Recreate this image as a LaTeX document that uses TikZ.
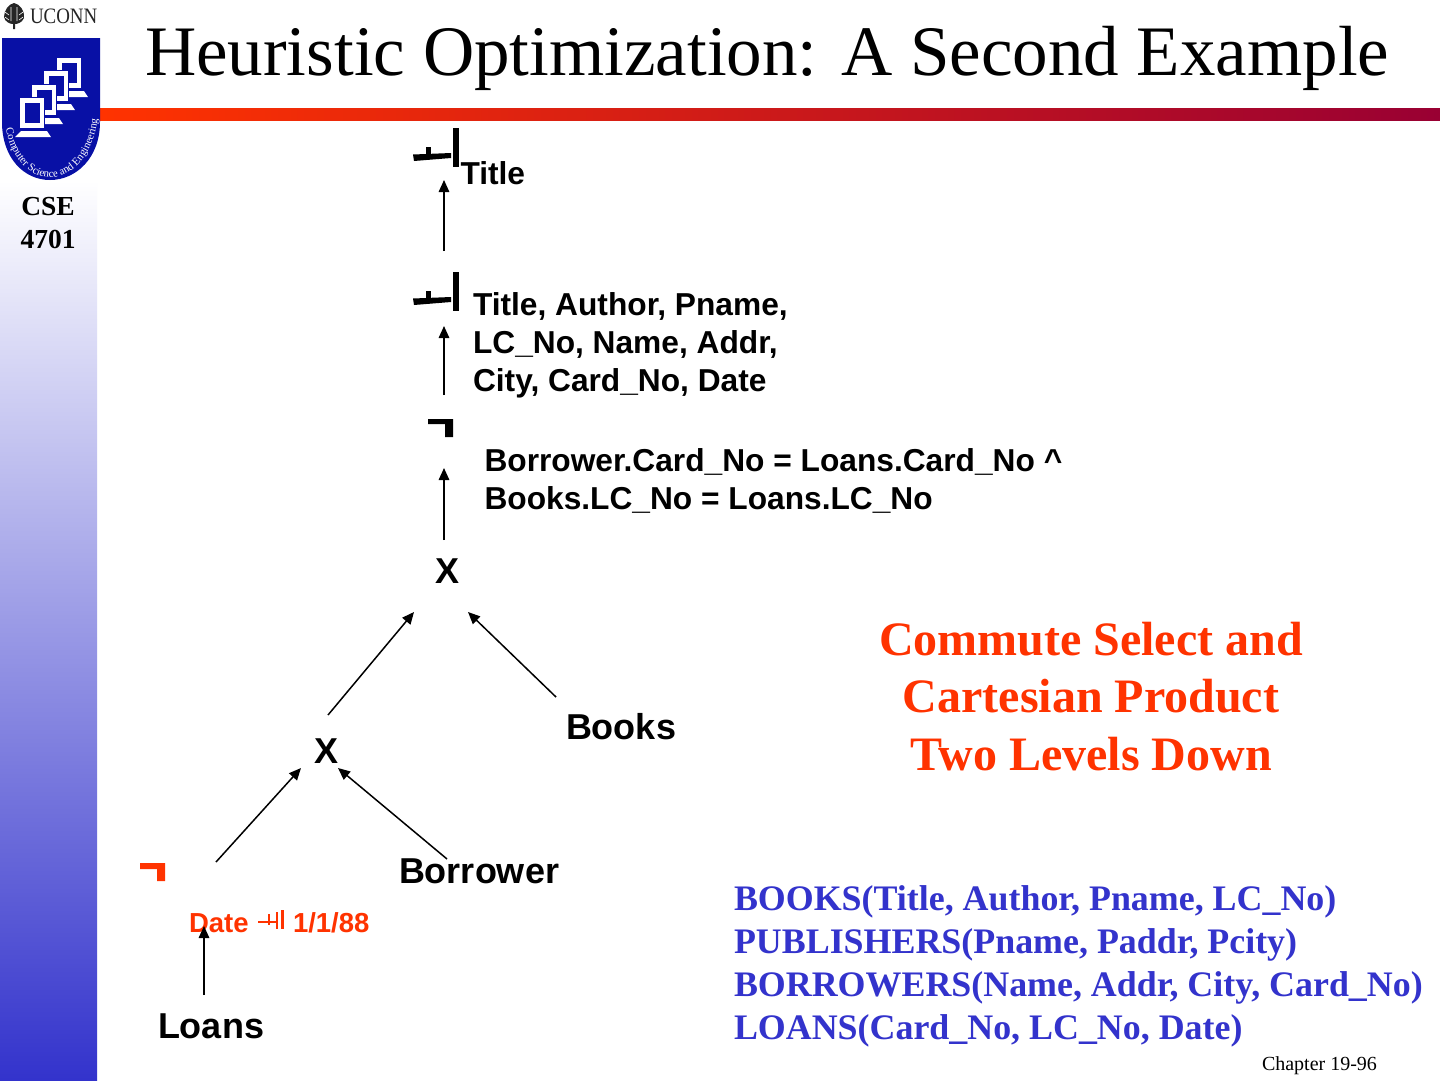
\documentclass[tikz,border=0pt]{standalone}
\usepackage{fontspec}
\setmainfont{Liberation Serif}
\setsansfont{Liberation Sans}
\usetikzlibrary{arrows.meta,decorations.text}
\definecolor{hotred}{RGB}{255,51,0}
\definecolor{wine}{RGB}{153,0,51}
\definecolor{slideblue}{RGB}{51,51,204}
\definecolor{shieldblue}{RGB}{8,16,165}
\newcommand{\fsz}[2]{\fontsize{#1}{#2}\selectfont}
\tikzset{
  x=1pt,y=-1pt,
  every node/.style={inner sep=0pt,outer sep=0pt},
  treelabel/.style={font=\sffamily\bfseries\fsz{36}{36},text=black},
  attrlabel/.style={font=\sffamily\bfseries\fsz{31.7}{38},text=black,anchor=base west,align=left},
  conn/.style={draw=black,line width=1.5pt,-{Triangle[length=12pt,width=10.5pt]}},
}
\begin{document}
\begin{tikzpicture}
\useasboundingbox (0,0) rectangle (1440,1080);
\fill[white] (0,0) rectangle (1440,1080);
% sidebar
\shade[top color=white,bottom color=slideblue] (0,180) rectangle (97,1080);
% red rule
\shade[left color=hotred,right color=wine] (100,108) rectangle (1440,120);
% shield
\fill[shieldblue] (2,38) -- (100,38) -- (100,122) .. controls (100,158) and (76,180) .. (50,180) .. controls (24,180) and (2,158) .. (2,122) -- cycle;
\foreach \dx/\dy in {37/-40,24/-27,12/-13,0/0}{
  \begin{scope}[shift={(\dx,\dy)}]
    \fill[shieldblue] (19,97) rectangle (45,128.5);
    \fill[white] (20,98) rectangle (44,127.5);
    \fill[shieldblue] (24.5,102.5) rectangle (39.5,122.5);
    \fill[white] (15,137) -- (51,137) -- (47,131) -- (21,131) -- cycle;
  \end{scope}
}
\path[decorate,decoration={text along path,text align=center,
  text={|\rmfamily\fsz{10.8}{10.8}\color{white}|Computer Science and Engineering}}]
  (5,122) .. controls (8,154) and (28,177.5) .. (50,177.5) .. controls (72,177.5) and (96,154) .. (98,112);
% UCONN mark
\fill[black!85] (14,3) .. controls (20,4) and (25,11) .. (24,18) .. controls (22,23) and (17,24) .. (15,24) -- (15,29) -- (13,29) -- (13,24) .. controls (10,24) and (5,22) .. (4,17) .. controls (4,10) and (9,4) .. (14,3) -- cycle;
\draw[white,line width=.6pt] (11,7) -- (11,21) (17,7) -- (17,21) (5,12) -- (9,15) (23,12) -- (19,15) (5,17) -- (9,20) (23,17) -- (19,20);
\node[anchor=base west,font=\rmfamily\fsz{22}{22},text=black!85] (uconn) at (30,23) {\scalebox{0.86}[1]{UCONN}};
\node[font=\rmfamily\bfseries\fsz{27.5}{33},align=center,text=black] (course) at (48,223) {CSE\\4701};
% title
\node[anchor=base west,font=\rmfamily\fsz{71}{71},text=black] (title) at (145,75) {Heuristic Optimization: A Second Example};
% project glyphs
\foreach \dy in {0,144}{
  \begin{scope}[yshift=-\dy pt]
    \fill[black] (453,128) rectangle (459,167);
    \fill[black] (413,154.5) -- (451,153) -- (451,158) -- (414,161) -- cycle;
    \fill[black] (426,147) rectangle (431,156);
  \end{scope}
}
% select glyphs
\fill[black] (428,419) -- (453,419) -- (453,437) -- (445,437) -- (445,424) -- (428,424) -- cycle;
\fill[hotred] (140,863) -- (165,863) -- (165,881) -- (157,881) -- (157,869) -- (140,869) -- cycle;
% labels
\node[attrlabel] (lblTitle) at (460.5,184) {Title};
\node[attrlabel,anchor=north west] (lblAttrs) at (473,293) {Title, Author, Pname,\\LC\_No, Name, Addr,\\City, Card\_No, Date};
\node[attrlabel,anchor=north west] (lblCond) at (484.5,449) {Borrower.Card\_No = Loans.Card\_No \^{}\\Books.LC\_No = Loans.LC\_No};
\node[treelabel] (cross1) at (447,571) {X};
\node[treelabel] (cross2) at (327,751) {X};
\node[treelabel,anchor=base west] (books) at (566,739) {Books};
\node[treelabel,anchor=base west] (borrower) at (399,883) {Borrower};
\node[treelabel,anchor=base west] (loans) at (158,1038) {Loans};
\node[anchor=base west,font=\sffamily\bfseries\fsz{27.5}{27.5},text=hotred] (date) at (189,932) {Date};
\node[anchor=base west,font=\sffamily\bfseries\fsz{27.5}{27.5},text=hotred] (datev) at (293,932) {1/1/88};
\fill[hotred] (258,920.5) rectangle (276,923);
\fill[hotred] (268,914) rectangle (270,925);
\fill[hotred] (276,912) rectangle (278,929);
\fill[hotred] (281,910) rectangle (284,929);
% arrows
\coordinate (a1) at (444,251); \coordinate (a2) at (444,180);
\coordinate (b1) at (444,395); \coordinate (b2) at (444,326);
\coordinate (c1) at (444,540); \coordinate (c2) at (444,468);
\coordinate (d1) at (328,715); \coordinate (d2) at (414,612);
\coordinate (e1) at (556,697); \coordinate (e2) at (468,612);
\coordinate (f1) at (216,862); \coordinate (f2) at (301,768);
\coordinate (g1) at (447,859); \coordinate (g2) at (338,768);
\coordinate (h1) at (204,995); \coordinate (h2) at (204,926);
\foreach \s/\t in {a1/a2,b1/b2,c1/c2,d1/d2,e1/e2,f1/f2,g1/g2,h1/h2}{\draw[conn] (\s) -- (\t);}
% notes
\node[anchor=north,font=\rmfamily\bfseries\fsz{48}{57.5},text=hotred,align=center] (note) at (1091,622) {Commute Select and\\Cartesian Product\\Two Levels Down};
\node[anchor=north west,font=\rmfamily\bfseries\fsz{35.9}{43},text=slideblue,align=left] (schema) at (734,886) {BOOKS(Title, Author, Pname, LC\_No)\\PUBLISHERS(Pname, Paddr, Pcity)\\BORROWERS(Name, Addr, City, Card\_No)\\LOANS(Card\_No, LC\_No, Date)};
\node[anchor=base west,font=\rmfamily\fsz{20}{20},text=black] (chapter) at (1262,1070) {Chapter 19-96};
\end{tikzpicture}
\end{document}
